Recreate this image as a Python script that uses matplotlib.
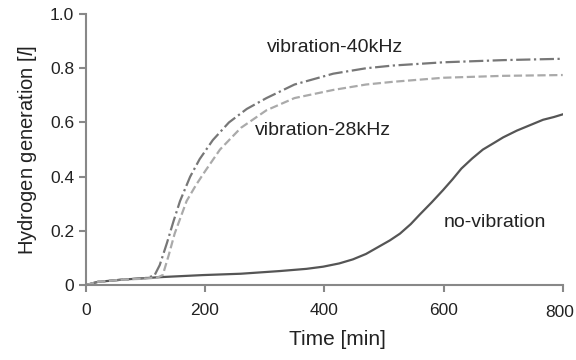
import matplotlib.pyplot as plt
import matplotlib.transforms as mtransforms

plt.rcParams['font.family'] = ['Liberation Sans', 'DejaVu Sans']
plt.rcParams['mathtext.fontset'] = 'custom'
plt.rcParams['mathtext.it'] = 'Liberation Sans:italic'

# no vibration
t_nv = [0, 20, 60, 100, 130, 196, 260, 326, 370, 398, 425, 448, 470, 490, 510, 527, 545, 560, 580, 599, 615, 630, 648, 666, 685, 700, 723, 745, 767, 785, 800]
h_nv = [0, 0.012, 0.02, 0.026, 0.03, 0.037, 0.042, 0.052, 0.06, 0.068, 0.08, 0.095, 0.115, 0.14, 0.165, 0.19, 0.225, 0.26, 0.305, 0.35, 0.39, 0.43, 0.467, 0.50, 0.525, 0.545, 0.57, 0.59, 0.61, 0.62, 0.63]

# vibration 40 kHz
t_40 = [0, 20, 60, 100, 115, 124, 136, 147, 158, 175, 191, 213, 240, 270, 303, 350, 415, 470, 515, 600, 700, 800]
h_40 = [0, 0.012, 0.02, 0.026, 0.035, 0.074, 0.155, 0.235, 0.31, 0.40, 0.465, 0.535, 0.6, 0.65, 0.69, 0.74, 0.78, 0.80, 0.81, 0.822, 0.83, 0.835]

# vibration 28 kHz
t_28 = [0, 20, 60, 100, 120, 129, 139, 149, 169, 185, 200, 225, 260, 303, 350, 415, 470, 515, 600, 700, 800]
h_28 = [0, 0.012, 0.02, 0.024, 0.028, 0.037, 0.11, 0.19, 0.31, 0.37, 0.42, 0.50, 0.58, 0.645, 0.69, 0.72, 0.74, 0.75, 0.765, 0.772, 0.775]

fig = plt.figure(figsize=(5.76, 3.6), dpi=100)
ax = fig.add_axes([0.149, 0.208, 0.828, 0.753])

ax.plot(t_nv, h_nv, color='#555555', lw=1.6, ls='-')
ax.plot(t_40, h_40, color='#777777', lw=1.6, ls='-.')
ax.plot(t_28, h_28, color='#aaaaaa', lw=1.6, ls='--')

ax.text(418, 0.875, 'vibration-40kHz', ha='center', va='center', fontsize=14, color='#222222')
ax.text(398, 0.572, 'vibration-28kHz', ha='center', va='center', fontsize=14, color='#222222')
ax.text(686, 0.232, 'no-vibration', ha='center', va='center', fontsize=14, color='#222222')

ax.set_xlim(0, 800)
ax.set_ylim(0, 1.0)
ax.set_xticks([0, 200, 400, 600, 800])
ax.set_yticks([0, 0.2, 0.4, 0.6, 0.8, 1.0])
ax.set_yticklabels(['0', '0.2', '0.4', '0.6', '0.8', '1.0'])

for s in ['top', 'right']:
    ax.spines[s].set_visible(False)
for s in ['left', 'bottom']:
    ax.spines[s].set_color('#888888')
    ax.spines[s].set_linewidth(1.5)
ax.tick_params(colors='#888888', width=1.5, length=5, labelcolor='#222222', labelsize=12.5)
ax.tick_params(axis='x', pad=8)

# last x label sits a little left and lower in the original
lbl = ax.get_xticklabels()[-1]
lbl.set_transform(lbl.get_transform() + mtransforms.ScaledTranslation(-3 / 100, -2 / 100, fig.dpi_scale_trans))

ax.set_xlabel('Time [min]', fontsize=15, color='#222222')
ax.xaxis.set_label_coords(0.527, -0.165)
ax.set_ylabel('Hydrogen generation [$\\mathit{l}$]', fontsize=14.5, color='#222222', labelpad=8)

fig.savefig('out.png', dpi=100)
